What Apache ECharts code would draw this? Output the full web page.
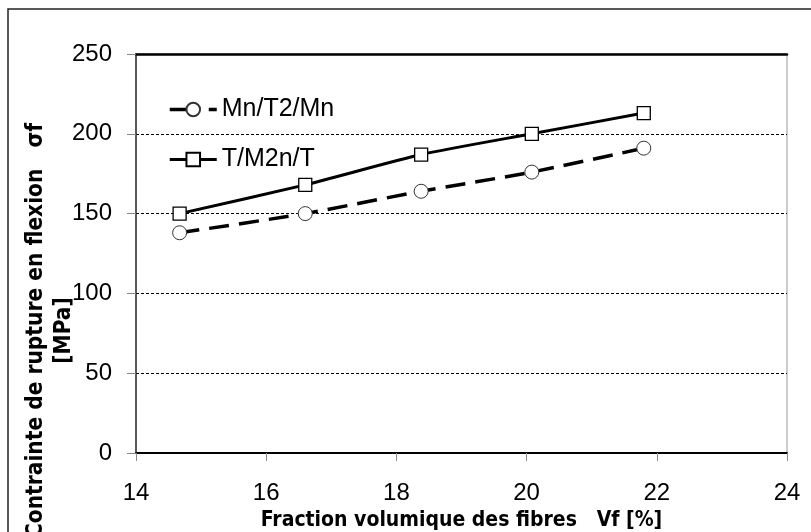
<!DOCTYPE html>
<html>
<head>
<meta charset="utf-8">
<script src="https://cdn.jsdelivr.net/npm/echarts@6/dist/echarts.min.js"></script>
<style>
  html, body { margin: 0; padding: 0; background: #fff; }
  #chart { width: 811px; height: 532px; }
</style>
</head>
<body>
<div id="chart"></div>
<script>
// fraction volumique des fibres Vf [%]
const vf = [14.67, 16.6, 18.38, 20.08, 21.8];
// contrainte de rupture en flexion [MPa]
const mnT2Mn = [138, 150, 164, 176, 191];
const tM2nT = [150, 168, 187, 200, 213];

const seriesNames = ['Mn/T2/Mn', 'T/M2n/T'];
const xTitle = 'Fraction volumique des fibres   Vf [%]';
const yTitle = 'Contrainte de rupture en flexion   \u03c3f\n[MPa]';

const pair = (xs, ys) => xs.map((x, i) => [x, ys[i]]);

const narrow = '"Liberation Sans Narrow", "DejaVu Sans Condensed", sans-serif';
const arial = '"Liberation Sans", Arial, sans-serif';

const chart = echarts.init(document.getElementById('chart'));

const option = {
    backgroundColor: '#fff',
    animation: false,
    graphic: [
        {
            type: 'rect',
            shape: { x: 8, y: 9, width: 900, height: 600 },
            style: { fill: 'none', stroke: '#222', lineWidth: 1.5 },
            silent: true
        }
    ],
    grid: {
        left: 136,
        right: 24,
        top: 54,
        bottom: 79,
        outerBoundsMode: 'none',
        containLabel: false,
        show: true,
        borderColor: '#999',
        borderWidth: 1
    },
    legend: {
        orient: 'vertical',
        left: 163,
        top: 92,
        itemWidth: 47,
        itemHeight: 17,
        itemGap: 25,
        textStyle: { fontFamily: arial, fontSize: 25, color: '#000' },
        data: [
            { name: seriesNames[0], lineStyle: { width: 3.5, type: [17, 22], color: '#000' } },
            { name: seriesNames[1], lineStyle: { width: 3, type: 'solid', color: '#000' } }
        ]
    },
    xAxis: [
        {
            type: 'value',
            min: 14,
            max: 24,
            interval: 2,
            name: xTitle,
            nameLocation: 'middle',
            nameGap: 57,
            nameMoveOverlap: false,
            nameTextStyle: { fontFamily: narrow, fontSize: 21, fontWeight: 'bold', color: '#000' },
            axisLine: { show: true, lineStyle: { color: '#000', width: 2 } },
            axisTick: { show: true, inside: false, length: 8, lineStyle: { color: '#888' } },
            axisLabel: { margin: 28, fontFamily: arial, fontSize: 24, color: '#000' },
            splitLine: { show: false }
        },
        {
            type: 'value',
            position: 'top',
            min: 14,
            max: 24,
            axisLine: { show: true, lineStyle: { color: '#000', width: 2.5 } },
            axisTick: { show: false },
            axisLabel: { show: false },
            splitLine: { show: false }
        }
    ],
    yAxis: {
        type: 'value',
        min: 0,
        max: 250,
        interval: 50,
        name: yTitle,
        nameLocation: 'middle',
        nameRotate: 90,
        nameGap: 58,
        nameMoveOverlap: false,
        nameTextStyle: {
            fontFamily: narrow,
            fontSize: 22.5,
            fontWeight: 'bold',
            color: '#000',
            lineHeight: 28,
            align: 'center',
            padding: [0, 154, 0, 0]
        },
        axisLine: { show: true, lineStyle: { color: '#333', width: 1.5 } },
        axisTick: { show: true, inside: false, length: 9, lineStyle: { color: '#888' } },
        axisLabel: { margin: 24, fontFamily: arial, fontSize: 24, color: '#000' },
        splitLine: {
            show: true,
            showMinLine: false,
            showMaxLine: false,
            lineStyle: { color: '#000', width: 1, type: [3, 2] }
        }
    },
    series: [
        {
            name: seriesNames[0],
            type: 'line',
            data: pair(vf, mnT2Mn),
            smooth: 0.2,
            symbol: 'circle',
            symbolSize: 14,
            lineStyle: { color: '#000', width: 3.5, type: [20, 10] },
            itemStyle: { color: '#fff', borderColor: '#333', borderWidth: 1 },
            z: 3
        },
        {
            name: seriesNames[1],
            type: 'line',
            data: pair(vf, tM2nT),
            smooth: 0.2,
            symbol: 'rect',
            symbolSize: 13,
            lineStyle: { color: '#000', width: 3 },
            itemStyle: { color: '#fff', borderColor: '#000', borderWidth: 1.3 },
            z: 3
        }
    ]
};

chart.setOption(option);
window.addEventListener('resize', chart.resize);
</script>
</body>
</html>
